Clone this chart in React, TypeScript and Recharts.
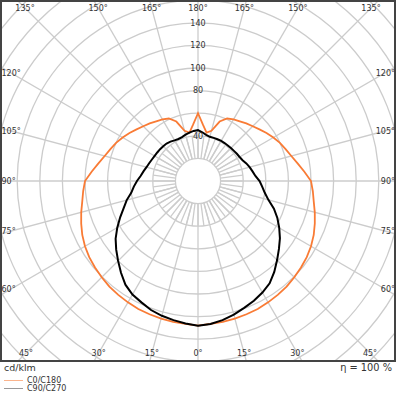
import React from 'react';
import { RadarChart, Radar, PolarGrid, PolarAngleAxis, PolarRadiusAxis } from 'recharts';

// gamma angles (deg) of the measured half-planes
const gammaAngles = [0, 5, 10, 15, 20, 25, 30, 35, 40, 45, 50, 55, 60, 65, 70, 75, 80, 85, 90,
  95, 100, 105, 110, 115, 120, 125, 130, 135, 140, 145, 150, 155, 160, 165, 170, 175, 180];

// C0/C180 (symmetric) in cd/klm
const c0c180 = [128, 127, 126.5, 126, 125.5, 125, 124, 123, 122, 120.5, 119, 117.5, 115.5, 113, 110, 107, 104, 102, 100,
  94.5, 89.5, 85.5, 82.5, 80, 77, 74, 71, 68.5, 66.5, 64.5, 63, 61, 56, 46, 43.5, 50, 60];

// C90 half-plane (right side)
const c90 = [128, 127, 125, 122.5, 119.5, 117, 114, 110.5, 105, 99, 93.5, 88.5, 83, 77.5, 71.5, 64.5, 60, 57, 54.5,
  51, 49, 47.3, 45.5, 43.5, 42.5, 42, 41.5, 41.2, 41, 41, 41, 40.8, 40.6, 40.5, 41.5, 43.3, 45];

// C270 half-plane (left side)
const c270 = [128, 126.5, 125, 123.5, 121.5, 118.5, 116, 112, 106, 100, 94.5, 89, 82.5, 76, 70, 65.3, 60, 57, 54,
  51, 49, 47.2, 46, 45, 44.3, 44, 43.8, 43.5, 43.3, 42.5, 41.5, 41, 41.3, 42.5, 43.5, 44.5, 45];

const angleTicks = [0, 15, 30, 45, 60, 75, 90, 105, 120, 135, 150, 165, 180, 195, 210, 225, 240, 255, 270, 285, 300, 315, 330, 345];
const innerSpokeTicks = [0, 7.5, 15, 22.5, 30, 37.5, 45, 52.5, 60, 67.5, 75, 82.5, 90, 97.5, 105, 112.5, 120, 127.5,
  135, 142.5, 150, 157.5, 165, 172.5, 180, 187.5, 195, 202.5, 210, 217.5, 225, 232.5, 240, 247.5, 255, 262.5,
  270, 277.5, 285, 292.5, 300, 307.5, 315, 322.5, 330, 337.5, 345, 352.5];
const radiusTicks = [20, 40, 60, 80, 100, 120, 140, 160, 180, 200, 220, 240];
const radiusLabels = [40, 80, 100, 120, 140];
const seriesNames = ['C0/C180', 'C90/C270'];
const unitLabel = 'cd/klm';
const efficiencyLabel = 'η = 100 %';

const data: { angle: number; orange: number; black: number }[] = [];
for (let i = 0; i < gammaAngles.length; i++) {
  data.push({ angle: gammaAngles[i], orange: c0c180[i], black: c90[i] });
}
for (let i = gammaAngles.length - 2; i >= 1; i--) {
  data.push({ angle: 360 - gammaAngles[i], orange: c0c180[i], black: c270[i] });
}

const W = 396;
const H = 362;
const CX = 198;
const CY = 181;
const PX_PER_UNIT = 1.13;
const INNER_R = 20 * PX_PER_UNIT;
const OUTER_R = 240 * PX_PER_UNIT;
const FONT = '"DejaVu Sans", sans-serif';
const TXT = '#333';
const GRID = '#cccccc';

const AngleTick = (props: any) => {
  const { payload } = props;
  const v = payload.value;
  if (v % 15 !== 0 || v >= 360) return null;
  const gamma = v <= 180 ? v : 360 - v;
  const th = (payload.coordinate * Math.PI) / 180;
  const dx = Math.cos(th);
  const dy = -Math.sin(th);
  const L = 11, R = 385, T = 8, B = 353;
  const eps = 1e-6;
  let t = Infinity;
  let side = 'T';
  if (dx < -eps) { const tt = (L - CX) / dx; if (tt < t) { t = tt; side = 'L'; } }
  if (dx > eps) { const tt = (R - CX) / dx; if (tt < t) { t = tt; side = 'R'; } }
  if (dy < -eps) { const tt = (T - CY) / dy; if (tt < t) { t = tt; side = 'T'; } }
  if (dy > eps) { const tt = (B - CY) / dy; if (tt < t) { t = tt; side = 'B'; } }
  let x = CX + t * dx;
  const y = CY + t * dy;
  let anchor: 'start' | 'middle' | 'end' = 'middle';
  if (side === 'L') { x = 1.5; anchor = 'start'; }
  if (side === 'R') { x = 395; anchor = 'end'; }
  return (
    <text x={x} y={y} dy="0.35em" textAnchor={anchor} fontSize={8} fontFamily={FONT} fill={TXT}>
      {`${gamma}°`}
    </text>
  );
};

const RadiusTick = (props: any) => {
  const { x, y, payload } = props;
  if (!radiusLabels.includes(payload.value)) return null;
  return (
    <text x={x} y={y} dy="0.35em" textAnchor="middle" fontSize={8} fontFamily={FONT} fill={TXT}>
      {payload.value}
    </text>
  );
};

export default function App() {
  return (
    <div style={{ position: 'absolute', left: 0, top: 0, width: 396, height: 396, background: '#fff', fontFamily: FONT }}>
      <div
        style={{
          position: 'absolute', left: 0, top: 0, width: W, height: H,
          border: '2px solid #444', boxSizing: 'border-box', overflow: 'hidden',
        }}
      >
        <div style={{ position: 'absolute', left: -2, top: -2 }}>
          <RadarChart width={W} height={H} cx={CX} cy={CY} innerRadius={INNER_R} outerRadius={40 * PX_PER_UNIT}
            data={data} startAngle={-90} endAngle={270} margin={{ top: 0, right: 0, bottom: 0, left: 0 }}>
            <PolarGrid gridType="circle" polarRadius={[]} stroke={GRID} strokeWidth={1.3} />
            <PolarAngleAxis dataKey="angle" type="number" domain={[0, 360]} ticks={innerSpokeTicks as any}
              tickCount={49} tick={false} axisLine={false} tickLine={false} />
            <PolarRadiusAxis type="number" domain={[20, 40]} tick={false} axisLine={false} tickLine={false} />
          </RadarChart>
        </div>
        <div style={{ position: 'absolute', left: -2, top: -2 }}>
          <RadarChart width={W} height={H} cx={CX} cy={CY} innerRadius={INNER_R} outerRadius={OUTER_R}
            data={data} startAngle={-90} endAngle={270} margin={{ top: 0, right: 0, bottom: 0, left: 0 }}>
            <PolarGrid gridType="circle" stroke={GRID} strokeWidth={1.3} />
            <Radar dataKey="orange" stroke="#f97b35" strokeWidth={1.8} fill="none" fillOpacity={0}
              dot={false} isAnimationActive={false} />
            <Radar dataKey="black" stroke="#000" strokeWidth={2} fill="none" fillOpacity={0}
              dot={false} isAnimationActive={false} />
            <PolarAngleAxis dataKey="angle" type="number" domain={[0, 360]} ticks={angleTicks as any}
              tickCount={25} tick={<AngleTick />} axisLine={false} tickLine={false} />
            <PolarRadiusAxis type="number" angle={90} domain={[20, 240]} ticks={radiusTicks as any}
              tickCount={12} tick={<RadiusTick />} axisLine={false} tickLine={false} />
          </RadarChart>
        </div>
      </div>
      <div style={{ position: 'absolute', left: 4, top: 361, fontSize: 9.5, color: TXT, lineHeight: '13px' }}>{unitLabel}</div>
      <div style={{ position: 'absolute', right: 4, top: 361, fontSize: 9.8, color: TXT, lineHeight: '13px' }}>{efficiencyLabel}</div>
      <div style={{ position: 'absolute', left: 4, top: 380, width: 19, height: 1, background: '#fbb48c' }} />
      <div style={{ position: 'absolute', left: 27, top: 374.5, fontSize: 8, color: TXT, lineHeight: '11px' }}>{seriesNames[0]}</div>
      <div style={{ position: 'absolute', left: 4, top: 388, width: 19, height: 1, background: '#999' }} />
      <div style={{ position: 'absolute', left: 27, top: 382.5, fontSize: 8, color: TXT, lineHeight: '11px' }}>{seriesNames[1]}</div>
    </div>
  );
}
